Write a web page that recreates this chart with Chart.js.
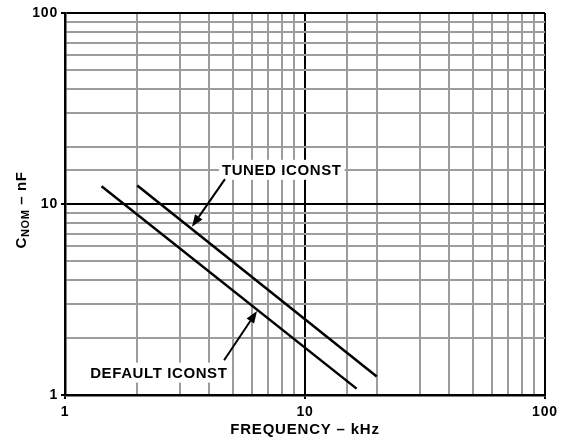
<!DOCTYPE html>
<html>
<head>
<meta charset="utf-8">
<script src="https://cdn.jsdelivr.net/npm/chart.js@4.4.1/dist/chart.umd.min.js"></script>
<style>
  html, body { margin: 0; padding: 0; background: #fff; }
  #wrap { width: 566px; height: 440px; position: relative; }
</style>
</head>
<body>
<div id="wrap"><canvas id="c" width="566" height="440"></canvas></div>
<script>
// ---- data ----
const defaultFreq = [1.42, 16.4];   // kHz
const defaultCnom = [12.4, 1.08];   // nF
const tunedFreq   = [2.0, 19.9];    // kHz
const tunedCnom   = [12.5, 1.25];   // nF
const majorTicks  = [1, 10, 100];
const xTitle = 'FREQUENCY – kHz';
const yTitleMain = 'C', yTitleSub = 'NOM', yTitleRest = ' – nF';

// annotations (data coordinates)
const notes = [
  { text: 'TUNED ICONST',   tx: 8.0,  ty: 15.1, ax0: 4.64, ay0: 13.5, ax1: 3.38, ay1: 7.6 },
  { text: 'DEFAULT ICONST', tx: 2.46, ty: 1.31, ax0: 4.60, ay0: 1.52, ax1: 6.31, ay1: 2.75 }
];

const toPts = (xs, ys) => xs.map((x, i) => ({ x: x, y: ys[i] }));
const FONT = '"Liberation Sans", Arial, Helvetica, sans-serif';
const isMajor = v => majorTicks.some(m => Math.abs(m - v) < 1e-9);

const gridOpts = {
  color: ctx => (ctx.tick && isMajor(ctx.tick.value)) ? '#000' : '#9c9c9c',
  lineWidth: 2,
  tickColor: ctx => (ctx.tick && isMajor(ctx.tick.value)) ? '#000' : 'rgba(0,0,0,0)',
  tickLength: 4,
  drawTicks: true
};

const spacingPlugin = {
  id: 'spacing',
  beforeDraw(chart) { chart.ctx.letterSpacing = '0.8px'; },
  afterDraw(chart) { chart.ctx.letterSpacing = '0px'; }
};

const annotPlugin = {
  id: 'annot',
  afterDatasetsDraw(chart) {
    const ctx = chart.ctx, xs = chart.scales.x, ys = chart.scales.y;
    ctx.save();
    ctx.font = 'bold 15px ' + FONT;
    ctx.letterSpacing = '0.6px';
    ctx.textAlign = 'center';
    ctx.textBaseline = 'middle';
    notes.forEach(n => {
      const px = xs.getPixelForValue(n.tx), py = ys.getPixelForValue(n.ty);
      const w = ctx.measureText(n.text).width;
      ctx.fillStyle = '#fff';
      ctx.fillRect(px - w / 2 - 3, py - 10, w + 6, 20);
      ctx.fillStyle = '#000';
      ctx.fillText(n.text, px, py + 1);
      // arrow
      const x0 = xs.getPixelForValue(n.ax0), y0 = ys.getPixelForValue(n.ay0);
      const x1 = xs.getPixelForValue(n.ax1), y1 = ys.getPixelForValue(n.ay1);
      const ang = Math.atan2(y1 - y0, x1 - x0);
      const hl = 12, hw = 4.5;
      const bx = x1 - hl * Math.cos(ang), by = y1 - hl * Math.sin(ang);
      ctx.strokeStyle = '#000';
      ctx.lineWidth = 2;
      ctx.beginPath(); ctx.moveTo(x0, y0); ctx.lineTo(bx, by); ctx.stroke();
      ctx.beginPath();
      ctx.moveTo(x1, y1);
      ctx.lineTo(bx + hw * Math.sin(ang), by - hw * Math.cos(ang));
      ctx.lineTo(bx - hw * Math.sin(ang), by + hw * Math.cos(ang));
      ctx.closePath();
      ctx.fillStyle = '#000';
      ctx.fill();
    });
    // y axis title with subscript
    const cy = 210;
    const cx = 21;
    ctx.translate(cx, cy);
    ctx.rotate(-Math.PI / 2);
    ctx.letterSpacing = '0.6px';
    ctx.textAlign = 'left';
    ctx.textBaseline = 'alphabetic';
    const fMain = 'bold 15px ' + FONT, fSub = 'bold 11px ' + FONT;
    ctx.font = fMain; const w1 = ctx.measureText(yTitleMain).width;
    ctx.font = fSub;  const w2 = ctx.measureText(yTitleSub).width;
    ctx.font = fMain; const w3 = ctx.measureText(yTitleRest).width;
    let sx = -(w1 + w2 + w3) / 2;
    const base = 5;
    ctx.fillStyle = '#000';
    ctx.font = fMain; ctx.fillText(yTitleMain, sx, base); sx += w1;
    ctx.font = fSub;  ctx.fillText(yTitleSub, sx, base + 3); sx += w2;
    ctx.font = fMain; ctx.fillText(yTitleRest, sx, base);
    ctx.restore();
  }
};

new Chart(document.getElementById('c'), {
  type: 'line',
  data: {
    datasets: [
      { label: 'DEFAULT ICONST', data: toPts(defaultFreq, defaultCnom), borderColor: '#000', borderWidth: 2.5, pointRadius: 0, tension: 0 },
      { label: 'TUNED ICONST',   data: toPts(tunedFreq, tunedCnom),     borderColor: '#000', borderWidth: 2.5, pointRadius: 0, tension: 0 }
    ]
  },
  options: {
    responsive: false,
    animation: false,
    devicePixelRatio: 1,
    layout: { padding: { left: 0, top: 13, right: 21, bottom: 0 } },
    plugins: { legend: { display: false }, tooltip: { enabled: false } },
    scales: {
      x: {
        type: 'logarithmic', min: 1, max: 100,
        grid: gridOpts,
        border: { color: '#000', width: 2.5 },
        ticks: {
          autoSkip: false, maxRotation: 0, color: '#000', padding: 5,
          font: { family: FONT, size: 14, weight: 'bold' },
          callback: v => isMajor(v) ? String(v) : ''
        },
        title: { display: true, text: xTitle, color: '#000', padding: { top: 0, bottom: 1 },
                 font: { family: FONT, size: 15, weight: 'bold' } },
        afterFit: s => { s.height = 45; }
      },
      y: {
        type: 'logarithmic', min: 1, max: 100,
        grid: gridOpts,
        border: { color: '#000', width: 2.5 },
        ticks: {
          autoSkip: false, color: '#000', padding: 3,
          font: { family: FONT, size: 14, weight: 'bold' },
          callback: v => isMajor(v) ? String(v) : ''
        },
        afterFit: s => { s.width = 65; }
      }
    }
  },
  plugins: [spacingPlugin, annotPlugin]
});
</script>
</body>
</html>
